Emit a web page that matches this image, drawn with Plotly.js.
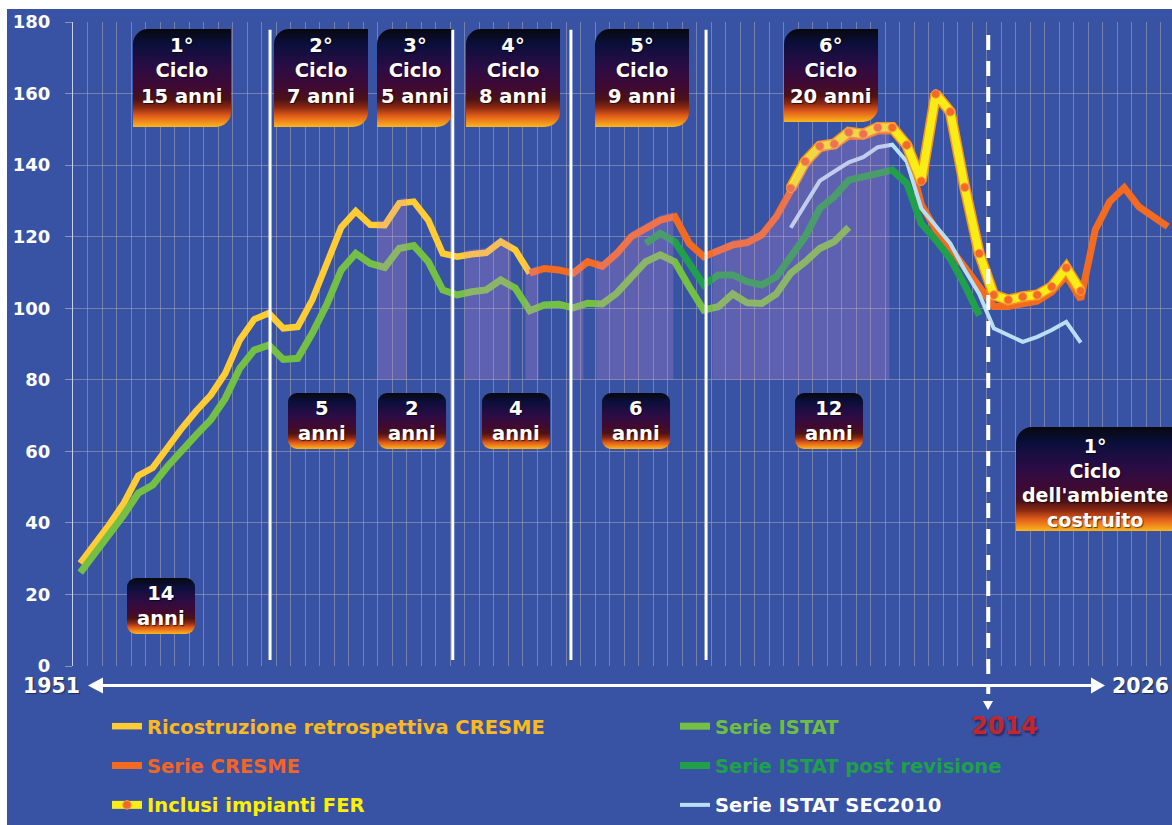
<!DOCTYPE html>
<html><head><meta charset="utf-8">
<script src="https://cdn.plot.ly/plotly-3.0.1.min.js"></script>
<style>
html,body{margin:0;padding:0;background:#ffffff;width:1172px;height:825px;overflow:hidden}
#chart{position:absolute;left:7px;top:9px;width:1165px;height:816px}
</style></head><body><div id="chart"></div>
<script>
// ---------------- DATA ----------------
const ricostruzioneStart = 1951;
const ricostruzione = [28.7,33.8,39.5,45.5,53.2,55.4,61.3,66.4,71.3,75.7,81.8,91.1,96.9,98.6,94.4,94.8,102.3,112.0,122.6,127.1,123.3,123.2,129.3,129.8,124.6,115.3,114.4,115.1,115.5,118.6,116.3,109.8];
const cresmeStart = 1982;
const cresme = [109.8,111.1,110.7,109.8,113.0,111.7,115.3,120.0,122.3,124.6,125.6,118.1,114.4,115.8,117.7,118.3,120.5,125.6,132.5,140.0,144.5,145.5,148.0,148.0,149.5,149.5,145.0,129.0,122.0,117.0,111.5,106.0,100.5,100.5,101.3,102.0,104.5,109.0,102.5,121.9,129.8,133.7,128.4,125.6,122.8];
const ferStart = 2000;
const fer = [133.5,141.0,145.3,145.9,149.2,148.7,150.5,150.5,145.6,135.5,159.9,154.9,133.8,115.3,103.7,102.3,103.2,103.7,106.0,111.3,104.8];
const istatStart = 1951;
const istat = [26.1,31.5,36.6,42.2,48.3,50.6,55.7,60.4,64.6,68.8,74.8,83.2,88.3,89.7,85.7,86.0,93.0,101.0,110.7,115.3,112.5,111.4,116.7,117.5,113.0,105.1,103.7,104.6,105.1,107.9,105.6,99.3,100.9,101.1,100.1,101.4,101.2,104.2,108.8,113.0,114.9,113.0,106.0,99.5,100.4,104.0,101.5,101.3,104.0,109.8,113.0,116.7,118.6,122.6];
const istatPostStart = 1990;
const istatPost = [118.1,120.9,118.6,112.5,106.5,109.3,109.3,107.4,106.5,108.8,114.4,120.0,127.9,131.2,135.8,136.8,137.7,138.6,134.9,123.7,119.1,113.9,106.5,98.0];
const sec2010Start = 2000;
const sec2010 = [122.5,129.3,135.6,138.2,140.8,142.2,145.0,145.7,141.0,127.9,122.8,118.1,110.7,104.0,94.4,92.5,90.6,92.0,93.9,96.2,90.4];

const yTicks = [0,20,40,60,80,100,120,140,160,180];
const firstYear = 1951, lastYear = 2026, refYear = 2014;
const cycleBreaks = [1964.09, 1976.69, 1984.84, 1994.16];
const refLineYear = 2013.62;
const shadedSpans = [[1971.5,1973.5],[1977.5,1980.7],[1981.7,1982.6],[1984.9,1985.7],[1986.6,1991.9],[1994.6,2006.8]];
const shadeBase = 80;
const cycleTexts = ['1°<br>Ciclo<br>15 anni','2°<br>Ciclo<br>7 anni','3°<br>Ciclo<br>5 anni','4°<br>Ciclo<br>8 anni','5°<br>Ciclo<br>9 anni','6°<br>Ciclo<br>20 anni'];
const durationTexts = ['14<br>anni','5<br>anni','2<br>anni','4<br>anni','6<br>anni','12<br>anni'];
const futureText = "1°<br>Ciclo<br>dell'ambiente<br>costruito";
const seriesNames = ['Ricostruzione retrospettiva CRESME','Serie CRESME','Inclusi impianti FER','Serie ISTAT','Serie ISTAT post revisione','Serie ISTAT SEC2010'];

// ---------------- LAYOUT GEOMETRY (page pixels) ----------------
const DIV_L = 7, DIV_T = 9, DIV_W = 1165, DIV_H = 816;
const PL = 73, PR = 1172, PT = 22, PB = 666;
const X0 = 1950.5, X1 = X0 + (PR - PL) / 14.5;
const px = X => (X - PL) / (PR - PL);
const py = Y => (PB - Y) / (PB - PT);
const pxYear = yr => (yr - X0) / (X1 - X0);

const cycleBoxes = [[133,231,29,127],[274,368,29,127],[377,452,29,127],[466,560,29,127],[595,689,29,127],[784,878,29,122]];
const durationBoxes = [[127,195,578,634],[288,356,393,449],[378,446,393,449],[482,550,393,449],[602,670,393,449],[795,863,393,449]];
const futureBox = [1016,1186,427,531];

const BG = '#3953a4';
const GRID = 'rgba(168,166,178,0.55)';
const FONT = 'DejaVu Sans';

const stops = [[0,'#08080e'],[0.16,'#0b0f3c'],[0.4,'#2c0c44'],[0.6,'#400a32'],[0.72,'#4c1216'],[0.8,'#8a2812'],[0.89,'#e35e1b'],[1,'#fbb51c']];
function gradSvg(w, h, kind) {
  const g = stops.map(s => `<stop offset="${s[0]}" stop-color="${s[1]}"/>`).join('');
  let shape;
  if (kind === 'leaf') {
    const r = 15;
    shape = `<path d="M${r},0 H${w} V${h-r} A${r},${r} 0 0 1 ${w-r},${h} H0 V${r} A${r},${r} 0 0 1 ${r},0 Z" fill="url(#g)"/>`;
  } else if (kind === 'tl') {
    const r = 16;
    shape = `<path d="M${r},0 H${w} V${h} H0 V${r} A${r},${r} 0 0 1 ${r},0 Z" fill="url(#g)"/>`;
  } else {
    shape = `<rect x="0" y="0" width="${w}" height="${h}" rx="9" ry="9" fill="url(#g)"/>`;
  }
  const svg = `<svg xmlns="http://www.w3.org/2000/svg" width="${w}" height="${h}" viewBox="0 0 ${w} ${h}"><defs><linearGradient id="g" x1="0" y1="0" x2="0" y2="1">${g}</linearGradient></defs>${shape}</svg>`;
  return 'data:image/svg+xml;charset=utf-8,' + encodeURIComponent(svg);
}
function boxImage(b, kind) {
  const [l, r, t, bt] = b;
  return {source: gradSvg(r - l, bt - t, kind), xref: 'paper', yref: 'paper', x: px(l), y: py(t),
    sizex: (r - l) / (PR - PL), sizey: (bt - t) / (PB - PT), xanchor: 'left', yanchor: 'top', sizing: 'stretch', layer: 'above'};
}

// ---------------- HELPERS ----------------
const yearsOf = (start, arr) => arr.map((_, i) => start + i);
function valAt(start, arr, x) {
  const t = x - start;
  if (t < 0 || t > arr.length - 1) return null;
  const i = Math.floor(t), f = t - i;
  return i + 1 < arr.length ? arr[i] * (1 - f) + arr[i + 1] * f : arr[i];
}
function topAt(x) {
  const v = [valAt(ricostruzioneStart, ricostruzione, x), valAt(cresmeStart, cresme, x), valAt(ferStart, fer, x)].filter(a => a !== null);
  return Math.max.apply(null, v);
}

// ---------------- TRACES ----------------
const traces = [];
function lineTrace(start, arr, name, color, width, legend, group, extra) {
  return Object.assign({type: 'scatter', mode: 'lines', x: yearsOf(start, arr), y: arr, name: name,
    line: {color: color, width: width}, legend: legend, legendgroup: group, hoverinfo: 'skip', cliponaxis: true}, extra || {});
}
traces.push(lineTrace(ricostruzioneStart, ricostruzione, '<span style="color:#fab91e">' + seriesNames[0] + '</span>', '#ffcc33', 6.5, 'legend', 'a'));
traces.push(lineTrace(cresmeStart, cresme, '<span style="color:#f26522">' + seriesNames[1] + '</span>', '#f36a21', 7, 'legend', 'b'));
traces.push(lineTrace(istatStart, istat, '<span style="color:#6ebe44">' + seriesNames[3] + '</span>', '#74c045', 7, 'legend2', 'd'));
traces.push(lineTrace(istatPostStart, istatPost, '<span style="color:#1fa04b">' + seriesNames[4] + '</span>', '#20a04a', 7, 'legend2', 'e'));
traces.push(lineTrace(sec2010Start, sec2010, '<span style="color:#ffffff">' + seriesNames[5] + '</span>', '#b9dff2', 4, 'legend2', 'f'));
traces.push(lineTrace(ferStart, fer, 'fer-outline', '#f7941d', 11, 'legend', 'c0', {showlegend: false}));
traces.push(lineTrace(ferStart, fer, '<span style="color:#fff000">' + seriesNames[2] + '</span>', '#f9ec17', 8, 'legend', 'c',
  {mode: 'lines+markers', marker: {size: 8.5, color: '#f46a25', line: {color: '#f8a04c', width: 1}}}));

shadedSpans.forEach(sp => {
  const xs = [sp[0]];
  for (let k = Math.ceil(sp[0]); k <= Math.floor(sp[1]); k++) if (k > sp[0] && k < sp[1]) xs.push(k);
  xs.push(sp[1]);
  const ys = xs.map(x => topAt(x) + 1.3);
  traces.push({type: 'scatter', mode: 'lines', x: xs.concat(xs.slice().reverse()), y: ys.concat(xs.map(() => shadeBase)),
    fill: 'toself', fillcolor: 'rgba(215,145,215,0.23)', line: {width: 0}, showlegend: false, hoverinfo: 'skip'});
});

// ---------------- SHAPES ----------------
const shapes = [];
cycleBreaks.forEach(x => shapes.push({type: 'line', xref: 'x', yref: 'y', x0: x, x1: x, y0: 1.7, y1: 177.8, line: {color: '#ffffff', width: 3}}));
shapes.push({type: 'line', xref: 'paper', yref: 'paper', x0: pxYear(refLineYear), x1: pxYear(refLineYear), y0: py(35), y1: py(694),
  line: {color: '#ffffff', width: 4, dash: '15px,11px'}, layer: 'above'});
// time arrow
shapes.push({type: 'line', xref: 'paper', yref: 'paper', x0: px(98), x1: px(1095), y0: py(685.5), y1: py(685.5), line: {color: '#ffffff', width: 3}});
shapes.push({type: 'path', xref: 'paper', yref: 'paper', fillcolor: '#ffffff', line: {width: 0},
  path: `M ${px(88)} ${py(685.5)} L ${px(103)} ${py(677.5)} L ${px(103)} ${py(693.5)} Z`});
shapes.push({type: 'path', xref: 'paper', yref: 'paper', fillcolor: '#ffffff', line: {width: 0},
  path: `M ${px(1105)} ${py(685.5)} L ${px(1091)} ${py(677.5)} L ${px(1091)} ${py(693.5)} Z`});
// small down triangle above 2014
shapes.push({type: 'path', xref: 'paper', yref: 'paper', fillcolor: '#ffffff', line: {width: 0},
  path: `M ${px(983)} ${py(701)} L ${px(993)} ${py(701)} L ${px(988)} ${py(710)} Z`});

// ---------------- ANNOTATIONS ----------------
const annotations = [];
const boxFont = {family: FONT, size: 19.5, color: '#ffffff', weight: 700, shadow: '1px 1px 1px rgba(0,0,0,0.6)'};
cycleBoxes.forEach((b, i) => annotations.push({xref: 'paper', yref: 'paper', x: px((b[0] + b[1]) / 2), y: py(71.5), text: cycleTexts[i],
  showarrow: false, xanchor: 'center', yanchor: 'middle', align: 'center', font: boxFont}));
durationBoxes.forEach((b, i) => annotations.push({xref: 'paper', yref: 'paper', x: px((b[0] + b[1]) / 2), y: py((b[2] + b[3]) / 2), text: durationTexts[i],
  showarrow: false, xanchor: 'center', yanchor: 'middle', align: 'center', font: boxFont}));
annotations.push({xref: 'paper', yref: 'paper', x: px(1095), y: py(482.5), text: futureText, showarrow: false,
  xanchor: 'center', yanchor: 'middle', align: 'center', font: Object.assign({}, boxFont, {size: 19})});
const axisFont = {family: FONT, size: 20.5, color: '#ffffff', weight: 700, shadow: '1px 1px 1px rgba(0,0,0,0.5)'};
annotations.push({xref: 'paper', yref: 'paper', x: px(51.5), y: py(686), text: String(firstYear), showarrow: false, xanchor: 'center', yanchor: 'middle', font: axisFont});
annotations.push({xref: 'paper', yref: 'paper', x: px(1140), y: py(686), text: String(lastYear), showarrow: false, xanchor: 'center', yanchor: 'middle', font: axisFont});
annotations.push({xref: 'paper', yref: 'paper', x: px(1004.5), y: py(726), text: String(refYear), showarrow: false, xanchor: 'center', yanchor: 'middle',
  font: {family: FONT, size: 24, color: '#c1272d', weight: 700, shadow: '2px 2px 2px rgba(40,30,90,0.8)'}});

// ---------------- LAYOUT ----------------
const legendBase = {xref: 'paper', yref: 'paper', xanchor: 'left', yanchor: 'top', orientation: 'v', traceorder: 'grouped',
  tracegroupgap: 11, bgcolor: 'rgba(0,0,0,0)', borderwidth: 0, font: {family: FONT, size: 19.5, color: '#ffffff', weight: 700}};
const layout = {
  width: DIV_W, height: DIV_H,
  margin: {l: PL - DIV_L, r: DIV_L + DIV_W - PR, t: PT - DIV_T, b: DIV_T + DIV_H - PB, pad: 0},
  paper_bgcolor: BG, plot_bgcolor: BG,
  showlegend: true, hovermode: false,
  legend: Object.assign({}, legendBase, {x: px(107), y: py(707)}),
  legend2: Object.assign({}, legendBase, {x: px(675), y: py(707)}),
  xaxis: {range: [X0, X1], tickmode: 'linear', tick0: X0, dtick: 1, showticklabels: false, ticks: '', showgrid: true,
    gridcolor: GRID, gridwidth: 1, zeroline: false, showline: false, fixedrange: true},
  yaxis: {range: [0, 180], tickmode: 'array', tickvals: yTicks, ticktext: yTicks.map(String), showgrid: true, gridcolor: GRID, gridwidth: 1,
    zeroline: false, showline: true, linecolor: '#c8d0ec', linewidth: 1, ticks: 'outside', ticklen: 7, tickcolor: 'rgba(168,166,178,0.8)',
    tickfont: {family: FONT, size: 18, color: '#ffffff', weight: 700}, ticklabelstandoff: 11, fixedrange: true},
  shapes: shapes, annotations: annotations,
  images: cycleBoxes.map(b => boxImage(b, 'leaf')).concat(durationBoxes.map(b => boxImage(b, 'round'))).concat([boxImage(futureBox, 'tl')])
};
Plotly.newPlot('chart', traces, layout, {displayModeBar: false, staticPlot: true});
</script></body></html>
